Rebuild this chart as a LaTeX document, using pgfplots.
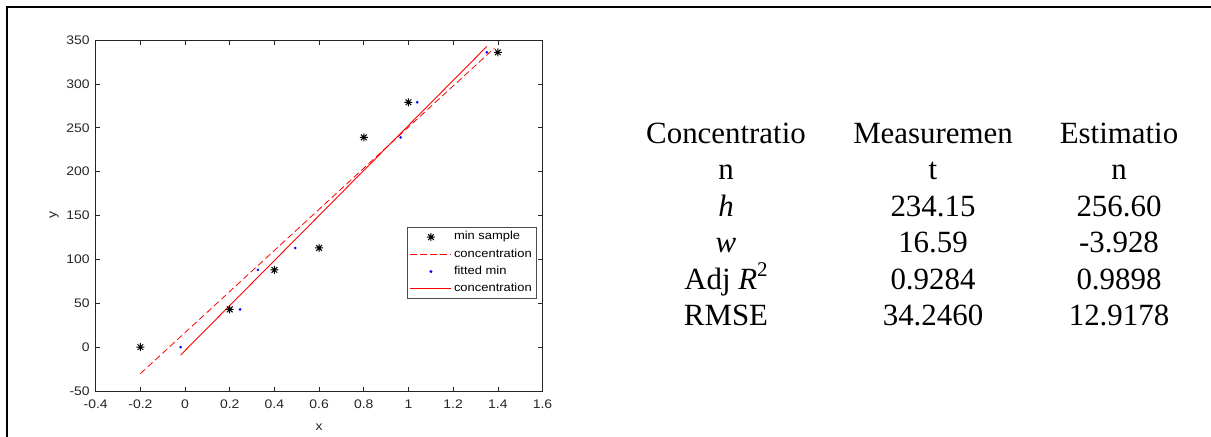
\documentclass[border=0pt]{standalone}
\usepackage{fontspec}
\setmainfont{Liberation Serif}
\newfontfamily\axfont[FakeStretch=1.12]{Liberation Sans}
\usepackage{pgfplots}
\pgfplotsset{compat=1.18}

\pgfdeclareplotmark{mstar}{%
 \pgfpathmoveto{\pgfqpoint{-\pgfplotmarksize}{0pt}}\pgfpathlineto{\pgfqpoint{\pgfplotmarksize}{0pt}}%
 \pgfpathmoveto{\pgfqpoint{0pt}{-\pgfplotmarksize}}\pgfpathlineto{\pgfqpoint{0pt}{\pgfplotmarksize}}%
 \pgfpathmoveto{\pgfqpoint{-.707\pgfplotmarksize}{-.707\pgfplotmarksize}}\pgfpathlineto{\pgfqpoint{.707\pgfplotmarksize}{.707\pgfplotmarksize}}%
 \pgfpathmoveto{\pgfqpoint{-.707\pgfplotmarksize}{.707\pgfplotmarksize}}\pgfpathlineto{\pgfqpoint{.707\pgfplotmarksize}{-.707\pgfplotmarksize}}%
 \pgfusepathqstroke}

\newcommand{\axf}{\axfont\fontsize{12.5}{14}\selectfont}
\newcommand{\lgf}{\axfont\fontsize{11.6}{13}\selectfont}

\begin{document}
\begin{tikzpicture}
\useasboundingbox (0bp,0bp) rectangle (1211bp,-437bp);
\draw[line width=2bp] (7bp,-445bp) -- (7bp,-7bp) -- (1220bp,-7bp);
\begin{axis}[
  at={(95.7bp,-391bp)}, anchor=south west,
  scale only axis, width=446.8bp, height=351bp,
  xmin=-0.4, xmax=1.6, ymin=-50, ymax=350,
  xtick={-0.4,-0.2,0,0.2,0.4,0.6,0.8,1,1.2,1.4,1.6},
  xticklabels={-0.4,-0.2,0,0.2,0.4,0.6,0.8,1,1.2,1.4,1.6},
  ytick={-50,0,50,100,150,200,250,300,350},
  yticklabels={-50,0,50,100,150,200,250,300,350},
  tick align=inside, major tick length=4.5bp,
  tick style={black!85, line width=0.6bp},
  axis line style={black!85, line width=0.6bp},
  ticklabel style={font=\axf, text=black!85},
  xticklabel style={yshift=-5bp},
  yticklabel style={xshift=-2.5bp},
  xlabel={x}, ylabel={y},
  label style={font=\axf, text=black!85},
  xlabel style={at={(axis description cs:0.5,-0.1026)}, anchor=center},
  ylabel style={at={(axis description cs:-0.0933,0.5)}, anchor=center},
  legend style={at={(0.697,0.467)}, anchor=north west, draw=black!70, line width=0.6bp,
    font=\lgf, inner sep=2.5bp, row sep=2.7bp,
    nodes={inner sep=2bp, text height=8bp, text depth=2.5bp}},
  legend cell align=left,
  legend image code/.code={\draw[mark repeat=2,mark phase=2,#1] plot coordinates {(0bp,0bp) (20.5bp,0bp) (41bp,0bp)};},
]
\addplot[only marks, mark=mstar, mark size=4bp, black, line width=1bp]
  coordinates {(-0.2,0) (0.2,43) (0.4,88) (0.6,113) (0.8,239) (1.0,279) (1.4,336)};
\addlegendentry{min sample}
\addplot[red, line width=0.8bp, dash pattern=on 6.5bp off 3.5bp]
  coordinates {(-0.2,-30.24) (1.385,340.9)};
\addlegendentry{concentration}
\addplot[only marks, mark=*, mark size=1.1bp, blue]
  coordinates {(-0.02,0) (0.246,43) (0.326,88) (0.493,113) (0.965,239) (1.039,279) (1.351,336)};
\addlegendentry{fitted min}
\addplot[red, line width=0.9bp, forget plot]
  coordinates {(-0.02,-9.06) (1.351,342.7)};
\addlegendimage{red, line width=1.1bp}
\addlegendentry{concentration}
\end{axis}
\begin{scope}[every node/.style={anchor=base, font=\fontsize{31}{37}\selectfont, inner sep=0pt}]
\node at (726bp,-143.3bp) {Concentratio};
\node at (933bp,-143.3bp) {Measuremen};
\node at (1119bp,-143.3bp) {Estimatio};
\node at (726bp,-179.8bp) {n};
\node at (933bp,-179.8bp) {t};
\node at (1119bp,-179.8bp) {n};
\node at (726bp,-216.3bp) {\textit{h}};
\node at (933bp,-216.3bp) {234.15};
\node at (1119bp,-216.3bp) {256.60};
\node at (726bp,-252.8bp) {\textit{w}};
\node at (933bp,-252.8bp) {16.59};
\node at (1119bp,-252.8bp) {-3.928};
\node at (726bp,-289.3bp) {Adj \textit{R}\raisebox{0.42em}{\fontsize{21}{21}\selectfont 2}};
\node at (933bp,-289.3bp) {0.9284};
\node at (1119bp,-289.3bp) {0.9898};
\node at (726bp,-325.8bp) {RMSE};
\node at (933bp,-325.8bp) {34.2460};
\node at (1119bp,-325.8bp) {12.9178};
\end{scope}
\end{tikzpicture}
\end{document}
